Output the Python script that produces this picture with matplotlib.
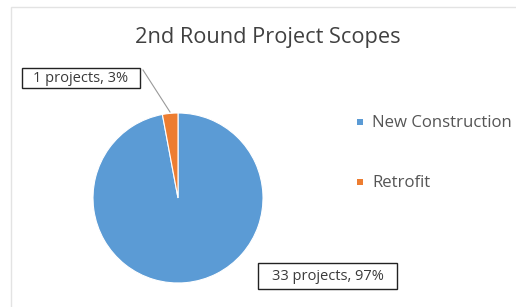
import matplotlib
matplotlib.use("Agg")
import matplotlib.pyplot as plt
from matplotlib.patches import Rectangle

categories = ["New Construction", "Retrofit"]
projects = [33, 1]
colors = ["#5B9BD5", "#ED7D31"]
title = "2nd Round Project Scopes"

plt.rcParams['font.family'] = ['Open Sans', 'DejaVu Sans']

W, H = 516, 307
fig = plt.figure(figsize=(W / 100, H / 100), dpi=100)
fig.patch.set_facecolor("white")


def fx(px):
    return px / W


def fy(py):
    return 1 - py / H


# light chart border (top and left visible)
fig.add_artist(Rectangle((fx(11), -0.05), 1.2, fy(7) + 0.05, transform=fig.transFigure,
                         fill=False, edgecolor="#e3e3e3", linewidth=1.0))

cx, cy, r = 178, 198, 85
ax = fig.add_axes([fx(cx - r), fy(cy + r), 2 * r / W, 2 * r / H])
wedges, _ = ax.pie(projects, colors=colors, startangle=90, counterclock=False,
                   wedgeprops=dict(edgecolor="white", linewidth=0.8))
ax.set_xlim(-1, 1)
ax.set_ylim(-1, 1)
ax.set_aspect("auto")

fig.text(fx(268), fy(38), title, ha="center", va="center", fontsize=15.7, color="#404040")

total = sum(projects)
labels = [f"{v} projects, {round(100 * v / total)}%" for v in projects]


def label_box(x0, y0, x1, y1, text):
    fig.add_artist(Rectangle((fx(x0), fy(y1)), fx(x1) - fx(x0), fy(y0) - fy(y1),
                             transform=fig.transFigure, facecolor="white",
                             edgecolor="#222222", linewidth=1.0))
    fig.text(fx((x0 + x1) / 2), fy((y0 + y1) / 2 + 1), text, ha="center", va="center",
             fontsize=10.5, color="#3a3a3a")


# Retrofit leader line
fig.add_artist(plt.Line2D([fx(143), fx(170)], [fy(70), fy(112)],
                          transform=fig.transFigure, color="#9a9a9a", linewidth=0.8))
label_box(258, 263, 397, 289, labels[0])
label_box(22, 68, 140, 88, labels[1])

# legend
for i, (cat, col) in enumerate(zip(categories, colors)):
    y = 122 + 60 * i
    fig.add_artist(Rectangle((fx(357), fy(y + 3)), 6 / W, 6 / H, transform=fig.transFigure,
                             facecolor=col, edgecolor="none"))
    fig.text(fx(372), fy(y + 1), cat, ha="left", va="center", fontsize=12.1, color="#555555")

fig.savefig("out.png", dpi=100)
